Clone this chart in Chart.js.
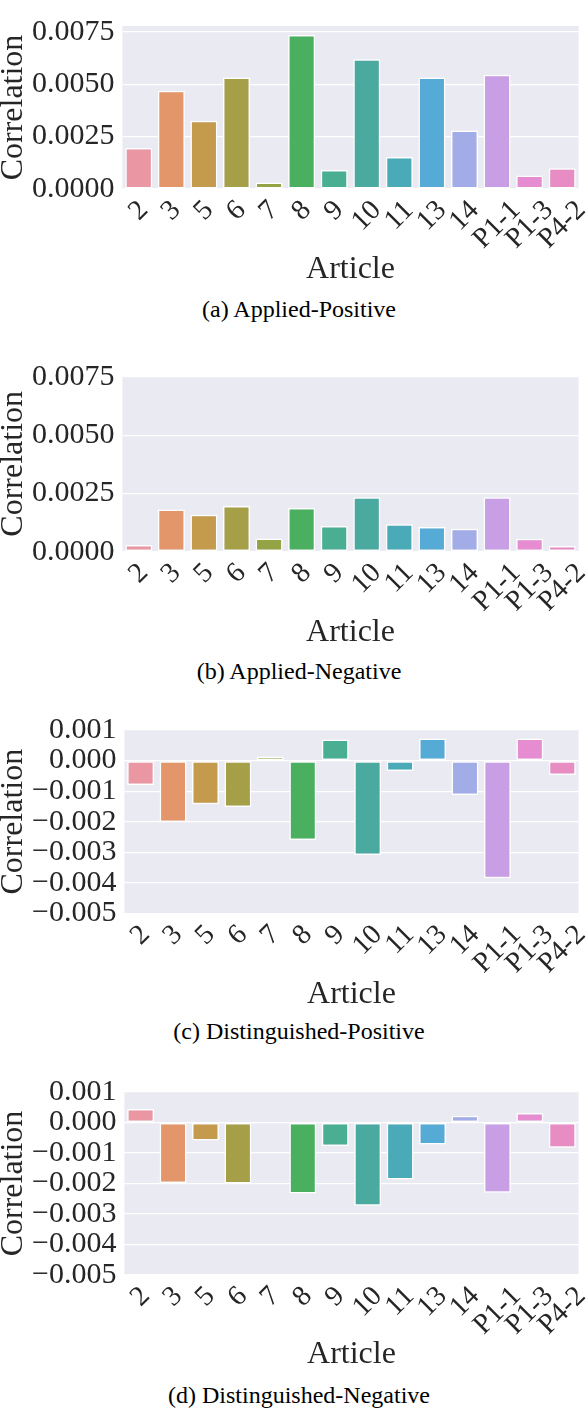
<!DOCTYPE html>
<html>
<head>
<meta charset="utf-8">
<script src="https://cdn.jsdelivr.net/npm/chart.js@4.4.1/dist/chart.umd.min.js"></script>
<style>
  html, body { margin: 0; padding: 0; background: #ffffff; }
  #page { position: relative; width: 586px; height: 1408px; overflow: hidden; }
  canvas { position: absolute; left: 0; }
  .caption { position: absolute; left: 0; width: 598px; text-align: center;
             font-family: "Liberation Serif", "Times New Roman", serif; font-size: 24px;
             line-height: 24px; color: #000; white-space: nowrap; }
</style>
</head>
<body>
<div id="page"></div>
<script>
// ---------- data ----------
const articles = ["2", "3", "5", "6", "7", "8", "9", "10", "11", "13", "14", "P1-1", "P1-3", "P4-2"];
const appliedPositive      = [0.00195, 0.00468, 0.00325, 0.00532, 0.00031, 0.00734, 0.00090, 0.00619, 0.00153, 0.00532, 0.00279, 0.00545, 0.00064, 0.00099];
const appliedNegative      = [0.00029, 0.00181, 0.00159, 0.00196, 0.00057, 0.00188, 0.00110, 0.00234, 0.00118, 0.00106, 0.00098, 0.00234, 0.00056, 0.00024];
const distinguishedPositive = [-0.00080, -0.00201, -0.00143, -0.00152, 0.00013, -0.00260, 0.00069, -0.00309, -0.00034, 0.00072, -0.00113, -0.00385, 0.00072, -0.00047];
const distinguishedNegative = [0.00044, -0.00198, -0.00059, -0.00200, 0.00000, -0.00233, -0.00077, -0.00273, -0.00187, -0.00072, 0.00022, -0.00230, 0.00031, -0.00083];

const appliedTicks = [0, 0.0025, 0.005, 0.0075];
const appliedTickLabels = ["0.0000", "0.0025", "0.0050", "0.0075"];
const distTicks = [-0.005, -0.004, -0.003, -0.002, -0.001, 0, 0.001];
const distTickLabels = ["\u22120.005", "\u22120.004", "\u22120.003", "\u22120.002", "\u22120.001", "0.000", "0.001"];

const xTitle = "Article";
const yTitle = "Correlation";
const captions = ["(a) Applied-Positive", "(b) Applied-Negative", "(c) Distinguished-Positive", "(d) Distinguished-Negative"];

// ---------- style ----------
const barColors = ["#ea97a3", "#e4966b", "#c49a4c", "#a59f47", "#93a345", "#4ab060", "#4aaf92",
                   "#4aaaa0", "#4baab7", "#55abd6", "#a2ace6", "#c89ee4", "#e68dd2", "#e78dc4"];
const FONT = '"Liberation Serif", "Times New Roman", serif';
const TEXT = "#262626";

// panel layout (page px)
const panels = [
  { values: appliedPositive, ticks: appliedTicks, tickLabels: appliedTickLabels, min: 0, max: 0.00777,
    top: 0, height: 290, plotTop: 5, plotBottom: 189, yWidth: 122.5, captionY: 311 },
  { values: appliedNegative, ticks: appliedTicks, tickLabels: appliedTickLabels, min: 0, max: 0.00754,
    top: 350, height: 303, plotTop: 367, plotBottom: 551.7, yWidth: 122.5, captionY: 673 },
  { values: distinguishedPositive, ticks: distTicks, tickLabels: distTickLabels, min: -0.005, max: 0.001,
    top: 700, height: 315, plotTop: 730, plotBottom: 913.3, yWidth: 124.4, captionY: 1033 },
  { values: distinguishedNegative, ticks: distTicks, tickLabels: distTickLabels, min: -0.005, max: 0.001,
    top: 1060, height: 315, plotTop: 1092, plotBottom: 1275, yWidth: 124.4, captionY: 1397 }
];

const plotBg = {
  id: 'plotBg',
  beforeDraw(chart) {
    const a = chart.chartArea, ctx = chart.ctx;
    ctx.save();
    ctx.fillStyle = '#eaeaf2';
    ctx.fillRect(a.left, a.top, a.right - a.left, a.bottom - a.top);
    ctx.restore();
  }
};

const rotLabels = {
  id: 'rotLabels',
  afterDraw(chart, args, opts) {
    const sx = chart.scales.x, ctx = chart.ctx;
    ctx.save();
    ctx.font = opts.size + 'px ' + FONT;
    ctx.fillStyle = TEXT;
    ctx.textAlign = 'center';
    ctx.textBaseline = 'middle';
    chart.data.labels.forEach((lab, i) => {
      const x = sx.getPixelForTick(i);
      const w = ctx.measureText(lab).width;
      ctx.save();
      ctx.translate(x, chart.chartArea.bottom + opts.offset + w * Math.SQRT1_2 / 2);
      ctx.rotate(-Math.PI / 4);
      ctx.fillText(lab, 0, 0);
      ctx.restore();
    });
    ctx.restore();
  }
};

const page = document.getElementById('page');
panels.forEach((p, idx) => {
  const c = document.createElement('canvas');
  c.width = 586; c.height = p.height;
  c.style.top = p.top + 'px';
  c.style.width = '586px'; c.style.height = p.height + 'px';
  page.appendChild(c);

  const cap = document.createElement('div');
  cap.className = 'caption';
  cap.textContent = captions[idx];
  cap.style.top = (p.captionY - 14) + 'px';
  page.appendChild(cap);

  const xHeight = p.height - (p.plotBottom - p.top);
  new Chart(c, {
    type: 'bar',
    data: {
      labels: articles,
      datasets: [{
        data: p.values,
        backgroundColor: barColors,
        borderColor: '#ffffff',
        borderWidth: 1.5,
        borderSkipped: false,
        barPercentage: 0.83,
        categoryPercentage: 1.0
      }]
    },
    options: {
      responsive: false,
      animation: false,
      devicePixelRatio: 1,
      layout: { padding: { top: p.plotTop - p.top, right: 7.5, bottom: 0, left: 0 } },
      plugins: {
        legend: { display: false },
        tooltip: { enabled: false },
        rotLabels: { size: 28.5, offset: 17 }
      },
      scales: {
        x: {
          type: 'category',
          offset: true,
          grid: { display: false },
          border: { display: false },
          ticks: { display: false },
          title: { display: true, text: xTitle, color: TEXT,
                   font: { family: FONT, size: 32, lineHeight: 1 },
                   padding: { top: 0, bottom: 4 } },
          afterFit(scale) { scale.height = xHeight; }
        },
        y: {
          min: p.min, max: p.max,
          grid: { color: '#ffffff', lineWidth: 1.2, drawTicks: false },
          border: { display: false },
          ticks: {
            color: TEXT, padding: 8, autoSkip: false,
            font: { family: FONT, size: 30 },
            callback: (v) => { const k = p.ticks.findIndex(t => Math.abs(t - v) < 1e-9); return k >= 0 ? p.tickLabels[k] : ''; }
          },
          afterBuildTicks(scale) { scale.ticks = p.ticks.map(v => ({ value: v })); },
          title: { display: true, text: yTitle, color: TEXT,
                   font: { family: FONT, size: 32, lineHeight: 0.84 },
                   padding: { top: 0, bottom: 0 } },
          afterFit(scale) { scale.width = p.yWidth; }
        }
      }
    },
    plugins: [plotBg, rotLabels]
  });
});
</script>
</body>
</html>
